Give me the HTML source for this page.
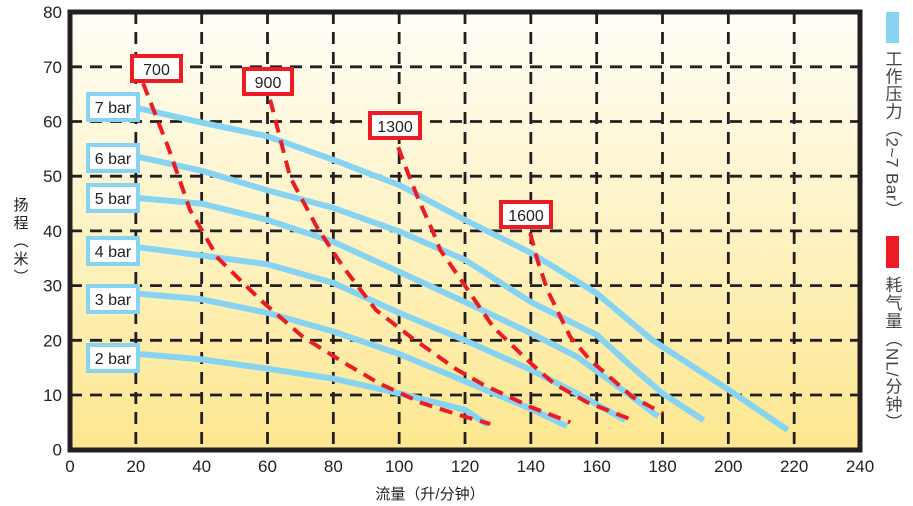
<!DOCTYPE html>
<html><head><meta charset="utf-8"><style>
body{margin:0;background:#fff;width:913px;height:506px;overflow:hidden;font-family:"Liberation Sans","Noto Sans CJK SC",sans-serif}
svg{display:block}
</style></head><body>
<svg id="chart" width="913" height="506" viewBox="0 0 913 506" xmlns="http://www.w3.org/2000/svg">
<defs><linearGradient id="bg" x1="0" y1="0" x2="0" y2="1"><stop offset="0" stop-color="#fffef8"/><stop offset="1" stop-color="#fde78f"/></linearGradient></defs>
<rect x="70" y="12" width="790" height="438" fill="url(#bg)"/>
<g id="grid"></g>
<g id="series"></g>
<rect x="70" y="12" width="790" height="438" fill="none" stroke="#231f20" stroke-width="5"/>
<g id="ticks" font-size="17" fill="#231f20"></g>
<g id="labels"></g>
<text x="430" y="499" font-size="15" text-anchor="middle" fill="#231f20">流量（升/分钟）</text>
<text x="20" y="197" font-size="15" fill="#231f20" style="writing-mode:vertical-rl;letter-spacing:3px">扬程（米）</text>
<rect x="886" y="12" width="13" height="31" fill="#87d4f2"/>
<text x="892" y="50" font-size="17" fill="#444" style="writing-mode:vertical-rl;letter-spacing:0.5px">工作压力（2~7 Bar）</text>
<rect x="886" y="236" width="13" height="32" fill="#ec1c24"/>
<text x="892" y="276" font-size="17" fill="#444" style="writing-mode:vertical-rl;letter-spacing:1px">耗气量（NL/分钟）</text>
</svg>
<script>
const xTicks=[0,20,40,60,80,100,120,140,160,180,200,220,240];
const yTicks=[0,10,20,30,40,50,60,70,80];
const pressureNames=["2 bar","3 bar","4 bar","5 bar","6 bar","7 bar"];
const bar2=[[21,17.5],[40,16.5],[60,14.8],[80,13],[100,10.3],[120,7.3],[127,4.5]];
const bar3=[[21,28.5],[40,27.5],[60,25],[80,21.6],[100,17.5],[120,12.5],[140,7.5],[151,4.3]];
const bar4=[[21,37],[40,35.5],[60,33.9],[80,30.5],[100,25],[120,20],[140,14.6],[154,10.3],[168.7,5.4]];
const bar5=[[21,46],[40,45],[60,42],[80,38],[100,32.5],[120,27],[140,21.3],[154,17],[165,12.2],[178.7,6.1]];
const bar6=[[21,53.5],[40,51],[60,47.4],[80,44.2],[100,39.9],[120,34.7],[140,27],[150,24],[160,21],[170,15.5],[180,10.3],[192.5,5.4]];
const bar7=[[21,62.4],[40,59.8],[60,57.3],[80,53],[100,48.4],[120,42],[140,36],[160,28.6],[177,20],[200,11],[218,3.6]];
const airNames=["700","900","1300","1600"];
const air700=[[22.2,67],[30,55],[36.5,43.8],[45,35],[57.8,27.4],[70.8,20.6],[83,16],[94,12.1],[107,8.5],[118.5,6.3],[127.7,4.7]];
const air900=[[60.8,64],[66.9,49.8],[75,40.7],[83,33.4],[93,25.5],[104,20.4],[117.6,14.6],[125.5,11.9],[140,7.8],[152,5]];
const air1300=[[99.7,55.3],[102.7,50.5],[106,45.6],[110,40.2],[112.5,36.5],[119.5,30.4],[128.6,22.4],[140,15.8],[147,12.1],[157,8.7],[171,5.4]];
const air1600=[[139.8,39.6],[142,34.7],[145,29.2],[152,20.6],[158,16.4],[171,9.6],[180,6.7]];
const NS="http://www.w3.org/2000/svg";
const X=v=>70+v*790/240, Y=v=>449.7-v*5.47;
function mk(t,p,a){const e=document.createElementNS(NS,t);for(const k in a)e.setAttribute(k,a[k]);p.appendChild(e);return e;}
const grid=document.getElementById('grid'),ticks=document.getElementById('ticks'),ser=document.getElementById('series'),lab=document.getElementById('labels');
xTicks.forEach(v=>{
 if(v>0&&v<240){const l=mk('line',grid,{x1:X(v),y1:12,x2:X(v),y2:450,stroke:'#231f20','stroke-width':2.8,'stroke-dasharray':'12 8'});
 
 }
 const t=mk('text',ticks,{x:X(v),y:472,'text-anchor':'middle'});t.textContent=v;
 
 
});
yTicks.forEach(v=>{
 if(v>0&&v<80){const l=mk('line',grid,{x1:70,y1:Y(v),x2:860,y2:Y(v),stroke:'#231f20','stroke-width':2.8,'stroke-dasharray':'12 8'});
 
 }
 const t=mk('text',ticks,{x:62,y:Y(v)+6,'text-anchor':'end'});t.textContent=v;
 
 
});
const pts=a=>a.map(p=>X(p[0]).toFixed(1)+','+Y(p[1]).toFixed(1)).join(' ');
[bar2,bar3,bar4,bar5,bar6,bar7].forEach((s,i)=>{
 const e=mk('polyline',ser,{points:pts(s),fill:'none',stroke:'#87d4f2','stroke-width':6,'stroke-linejoin':'round'});
 
 
});
[air700,air900,air1300,air1600].forEach((s,i)=>{
 const e=mk('polyline',ser,{points:pts(s),fill:'none',stroke:'#ec1c24','stroke-width':4,'stroke-dasharray':'13 8'});
 
 
});
const barBoxY=[343,284,236,183,143,92];
pressureNames.forEach((n,i)=>{
 const r=mk('rect',lab,{x:88,y:barBoxY[i]+2,width:50,height:26,fill:'#fff',stroke:'#87d4f2','stroke-width':4});
 
 
 const t=mk('text',lab,{x:113,y:barBoxY[i]+21,'text-anchor':'middle','font-size':16,fill:'#231f20'});t.textContent=n;
 
 
});
const airBox=[[130,54,53],[242,67,52],[368,111,54],[499,200,54]];
airNames.forEach((n,i)=>{
 const b=airBox[i];
 const r=mk('rect',lab,{x:b[0]+2,y:b[1]+2,width:b[2]-4,height:25,fill:'#fff',stroke:'#ec1c24','stroke-width':4});
 
 
 const t=mk('text',lab,{x:b[0]+b[2]/2,y:b[1]+21,'text-anchor':'middle','font-size':16,fill:'#231f20'});t.textContent=n;
 
 
});
</script>
</body></html>
